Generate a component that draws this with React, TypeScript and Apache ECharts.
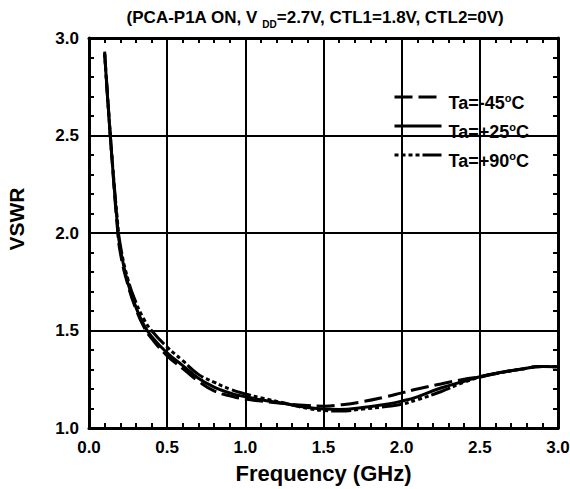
import React, { useEffect, useRef } from "react";
import * as echarts from "echarts";

const freqs = [0.1, 0.12, 0.15, 0.18, 0.2, 0.25, 0.3, 0.35, 0.4, 0.5, 0.6, 0.7, 0.8, 0.9, 1.0, 1.1, 1.25, 1.4, 1.5, 1.6, 1.75, 1.9, 2.0, 2.1, 2.25, 2.4, 2.5, 2.6, 2.75, 2.9, 3.0];
const vswrM45 = [2.93, 2.69, 2.35, 2.04, 1.9, 1.73, 1.61, 1.52, 1.46, 1.37, 1.305, 1.24, 1.19, 1.165, 1.148, 1.138, 1.125, 1.115, 1.112, 1.118, 1.135, 1.16, 1.18, 1.2, 1.226, 1.25, 1.263, 1.28, 1.3, 1.315, 1.314];
const vswrP25 = [2.92, 2.68, 2.35, 2.06, 1.92, 1.74, 1.62, 1.53, 1.47, 1.385, 1.32, 1.255, 1.21, 1.18, 1.16, 1.145, 1.125, 1.105, 1.097, 1.095, 1.105, 1.122, 1.138, 1.16, 1.205, 1.24, 1.263, 1.28, 1.3, 1.315, 1.314];
const vswrP90 = [2.92, 2.68, 2.36, 2.08, 1.94, 1.76, 1.645, 1.56, 1.5, 1.415, 1.345, 1.275, 1.235, 1.2, 1.175, 1.155, 1.128, 1.1, 1.09, 1.087, 1.097, 1.11, 1.122, 1.145, 1.186, 1.235, 1.26, 1.278, 1.3, 1.315, 1.314];
const seriesNames = ["Ta=-45°C", "Ta=+25°C", "Ta=+90°C"];
const legendLabels: Record<string, string> = {
  "Ta=-45°C": "Ta=-45{sup|o}C",
  "Ta=+25°C": "Ta=+25{sup|o}C",
  "Ta=+90°C": "Ta=+90{sup|o}C",
};

const FONT = "'Liberation Sans', Arial, sans-serif";

export default function App() {
  const ref = useRef<HTMLDivElement>(null);
  useEffect(() => {
    if (!ref.current) return;
    const chart = echarts.init(ref.current, null, { renderer: "svg" });
    const pairs = (vals: number[]) => freqs.map((f, i) => [f, vals[i]]);
    const minorTick = { show: true, splitNumber: 5, length: 5, lineStyle: { color: "#000", width: 2 } };
    const axisLine = { show: true, onZero: false, lineStyle: { color: "#000", width: 3 } };
    const axisTick = { show: true, inside: true, length: 5, lineStyle: { color: "#000", width: 2 } };
    const baseX = { type: "value" as const, min: 0, max: 3, interval: 0.5, axisLine, axisTick, minorTick };
    const baseY = { type: "value" as const, min: 1, max: 3, interval: 0.5, axisLine, axisTick, minorTick };
    const lineSeries = (name: string, vals: number[], type: any) => ({
      name,
      type: "line",
      smooth: true,
      symbol: "none",
      data: pairs(vals),
      itemStyle: { color: "#000" },
      lineStyle: { color: "#000", width: 3, type },
    });
    chart.setOption({
      animation: false,
      backgroundColor: "#fff",
      title: {
        text: "(PCA-P1A ON, V {sub|DD}=2.7V, CTL1=1.8V, CTL2=0V)",
        left: 310,
        top: 0,
        textAlign: "center",
        textStyle: {
          fontFamily: FONT,
          fontWeight: "bold",
          fontSize: 17,
          color: "#000",
          lineHeight: 24,
          rich: {
            sub: { fontFamily: FONT, fontWeight: "bold", fontSize: 10, lineHeight: 12, verticalAlign: "bottom", color: "#000" },
          },
        },
      },
      grid: { left: 89, right: 12, top: 38, bottom: 61, containLabel: false, outerBoundsMode: "none" },
      legend: {
        orient: "vertical",
        left: 393,
        top: 80,
        padding: 0,
        itemWidth: 47,
        itemHeight: 14,
        itemGap: -5,
        data: seriesNames,
        itemStyle: { opacity: 0 },
        lineStyle: { width: 3 },
        formatter: (name: string) => legendLabels[name] || name,
        textStyle: {
          fontFamily: FONT,
          fontWeight: "bold",
          fontSize: 18,
          color: "#000",
          lineHeight: 22,
          padding: [12, 0, 0, 2],
          rich: {
            sup: { fontFamily: FONT, fontWeight: "bold", fontSize: 11, lineHeight: 11, verticalAlign: "top", color: "#000" },
          },
        },
      },
      xAxis: [
        {
          ...baseX,
          position: "bottom",
          name: "Frequency (GHz)",
          nameLocation: "middle",
          nameGap: 34,
          nameTextStyle: { fontFamily: FONT, fontWeight: "bold", fontSize: 22, color: "#000" },
          axisLabel: {
            show: true,
            margin: 11,
            fontFamily: FONT,
            fontWeight: "bold",
            fontSize: 17,
            color: "#000",
            formatter: (v: number) => v.toFixed(1),
          },
          splitLine: { show: true, lineStyle: { color: "#000", width: 2 } },
        },
        { ...baseX, position: "top", axisLabel: { show: false }, splitLine: { show: false } },
      ],
      yAxis: [
        {
          ...baseY,
          position: "left",
          name: "VSWR",
          nameLocation: "middle",
          nameGap: 62,
          nameTextStyle: {
            fontFamily: FONT,
            fontWeight: "bold",
            fontSize: 21,
            color: "#000",
            padding: [0, 0, 0, 28],
          },
          axisLabel: {
            show: true,
            margin: 10,
            fontFamily: FONT,
            fontWeight: "bold",
            fontSize: 17,
            color: "#000",
            formatter: (v: number) => v.toFixed(1),
          },
          splitLine: { show: true, lineStyle: { color: "#000", width: 2 } },
        },
        { ...baseY, position: "right", axisLabel: { show: false }, splitLine: { show: false } },
      ],
      series: [
        lineSeries(seriesNames[0], vswrM45, [18, 6]),
        lineSeries(seriesNames[1], vswrP25, "solid"),
        lineSeries(seriesNames[2], vswrP90, [4, 3, 4, 3, 4, 3, 4, 3, 20, 3]),
      ],
    });
    return () => chart.dispose();
  }, []);
  return (
    <div
      ref={ref}
      style={{ position: "absolute", left: 0, top: 0, width: 570, height: 489, background: "#fff" }}
    />
  );
}
